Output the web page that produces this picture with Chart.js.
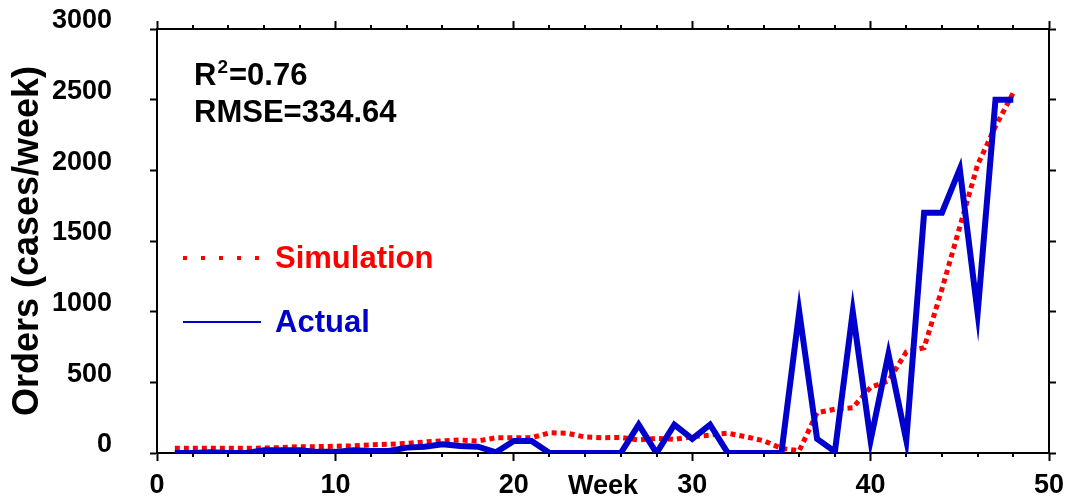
<!DOCTYPE html>
<html>
<head>
<meta charset="utf-8">
<title>Orders: simulation vs actual</title>
<script src="https://cdn.jsdelivr.net/npm/chart.js@4.4.1/dist/chart.umd.min.js"></script>
<style>
  html, body { margin: 0; padding: 0; background: #fff; }
  canvas { display: block; }
</style>
</head>
<body>
<canvas id="chart" width="1068" height="504"></canvas>
<script>
// weekly orders, cases/week
var weeks = [1, 2, 3, 4, 5, 6, 7, 8, 9, 10, 11, 12, 13, 14, 15, 16, 17, 18, 19, 20, 21, 22, 23, 24,
             25, 26, 27, 28, 29, 30, 31, 32, 33, 34, 35, 36, 37, 38, 39, 40, 41, 42, 43, 44, 45, 46, 47, 48];
var actual = [0, 0, 5, 0, 0, 20, 20, 20, 8, 8, 20, 14, 14, 38, 45, 61, 50, 45, 5, 85, 85, 0, 0, 0,
              0, 0, 200, 0, 200, 100, 200, 0, 0, 0, 0, 1000, 100, 10, 1000, 90, 700, 90, 1700, 1700, 2010, 990, 2500, 2500];
var simulation = [33, 33, 33, 33, 33, 35, 38, 45, 45, 48, 50, 58, 62, 68, 78, 85, 92, 85, 108, 108, 108, 143, 140, 113,
                  108, 110, 92, 104, 97, 115, 127, 140, 115, 87, 33, 16, 285, 310, 320, 465, 510, 715, 745, 1160, 1600, 2040, 2310, 2550];
var fitStats = ['R\u00b2=0.76', 'RMSE=334.64'];
var seriesNames = ['Simulation', 'Actual'];
var xMax = 50, yMax = 3000;

var FONT = '"Liberation Sans", Arial, sans-serif';
var RED = '#ff0000', BLUE = '#0000cc';

function toPoints(vals) {
    return weeks.map(function(w, i) { return { x: w, y: vals[i] }; });
}

function plainLabel(v) { return String(v); }

// fixed box sizes so the plot area lands where we want it
// (label overhang padding is dropped, the boxes are big enough)
function fixWidth(w) {
    return function(scale) {
        scale.width = w;
        scale.paddingTop = 0; scale.paddingBottom = 0;
    };
}
function fixHeight(h) {
    return function(scale) {
        scale.height = h;
        scale.paddingLeft = 0; scale.paddingRight = 0;
    };
}

var axisLine = { display: true, color: '#000', width: 2 };
var tickOnly = { drawOnChartArea: false, drawTicks: true, tickLength: 7, tickWidth: 2, tickColor: '#000' };

// text with a '²' drawn as a real raised, smaller 2
function drawStat(ctx, text, x, y) {
    var parts = text.split('\u00b2');
    ctx.font = 'bold 31px ' + FONT;
    ctx.fillText(parts[0], x, y);
    if (parts.length < 2) return;
    x += ctx.measureText(parts[0]).width + 1;
    ctx.font = 'bold 19px ' + FONT;
    ctx.fillText('2', x, y - 12);
    x += ctx.measureText('2').width + 1;
    ctx.font = 'bold 31px ' + FONT;
    ctx.fillText(parts[1], x, y);
}

// minor ticks every 2 weeks + fit statistics + legend inside the plot
var decorations = {
    id: 'decorations',
    afterDraw: function(chart) {
        var ctx = chart.ctx, area = chart.chartArea, xs = chart.scales.x;
        ctx.save();

        ctx.strokeStyle = '#000';
        ctx.lineWidth = 2;
        for (var v = 2; v < xMax; v += 2) {
            if (v % 10 === 0) continue;
            var px = Math.round(xs.getPixelForValue(v));
            ctx.beginPath();
            ctx.moveTo(px, area.bottom);
            ctx.lineTo(px, area.bottom + 4);
            ctx.moveTo(px, area.top);
            ctx.lineTo(px, area.top - 4);
            ctx.stroke();
        }

        ctx.fillStyle = '#000';
        ctx.textBaseline = 'alphabetic';
        ctx.textAlign = 'left';
        drawStat(ctx, fitStats[0], area.left + 37, area.top + 56);
        drawStat(ctx, fitStats[1], area.left + 37, area.top + 93);

        // legend
        ctx.font = 'bold 31px ' + FONT;
        ctx.textBaseline = 'middle';
        var ly = [area.top + 229, area.top + 293];
        chart.data.datasets.forEach(function(ds, i) {
            var y = ly[i];
            ctx.strokeStyle = ds.borderColor;
            ctx.beginPath();
            if (ds.borderDash) {
                ctx.lineWidth = 4;
                ctx.setLineDash([4, 14]);
            } else {
                ctx.lineWidth = 2;
                ctx.setLineDash([]);
            }
            ctx.moveTo(area.left + 26, y);
            ctx.lineTo(area.left + 104, y);
            ctx.stroke();
            ctx.setLineDash([]);
            ctx.fillStyle = ds.borderColor;
            ctx.fillText(ds.label, area.left + 118, y + 1);
        });
        ctx.restore();
    }
};

var ctx = document.getElementById('chart').getContext('2d');
var chart = new Chart(ctx, {
    type: 'line',
    data: {
        datasets: [{
            label: seriesNames[0],
            data: toPoints(simulation),
            borderColor: RED,
            borderWidth: 5,
            borderDash: [5, 4],
            borderCapStyle: 'butt',
            pointRadius: 0,
            tension: 0,
            fill: false,
            order: 1
        }, {
            label: seriesNames[1],
            data: toPoints(actual),
            borderColor: BLUE,
            borderWidth: 6,
            borderJoinStyle: 'miter',
            pointRadius: 0,
            tension: 0,
            fill: false,
            order: 0
        }]
    },
    options: {
        responsive: false,
        animation: false,
        devicePixelRatio: 1,
        layout: { padding: 0, autoPadding: false },
        plugins: { legend: { display: false }, tooltip: { enabled: false } },
        scales: {
            x: {
                type: 'linear', position: 'bottom', min: 0, max: xMax,
                afterFit: fixHeight(51),
                border: axisLine,
                grid: Object.assign({}, tickOnly, { tickLength: 8 }),
                ticks: {
                    stepSize: 10, autoSkip: false, maxRotation: 0, padding: 8,
                    color: '#000', font: { family: FONT, size: 27, weight: 'bold' },
                    callback: plainLabel
                },
                title: {
                    display: true, text: 'Week', color: '#000',
                    font: { family: FONT, size: 27, weight: 'bold' },
                    padding: { top: 0, bottom: 1 }
                }
            },
            x2: {
                type: 'linear', position: 'top', min: 0, max: xMax,
                afterFit: fixHeight(29),
                border: axisLine,
                grid: Object.assign({}, tickOnly, { tickLength: 8 }),
                ticks: { stepSize: 10, display: false }
            },
            y: {
                type: 'linear', position: 'left', min: 0, max: yMax,
                afterFit: fixWidth(157),
                border: axisLine,
                grid: tickOnly,
                ticks: {
                    stepSize: 500, padding: 38, labelOffset: -8,
                    color: '#000', font: { family: FONT, size: 27, weight: 'bold' },
                    callback: plainLabel
                },
                title: {
                    display: true, text: 'Orders (cases/week)', color: '#000',
                    font: { family: FONT, size: 36, weight: 'bold' },
                    padding: { top: 6, bottom: 0 }
                }
            },
            y2: {
                type: 'linear', position: 'right', min: 0, max: yMax,
                afterFit: fixWidth(19),
                border: axisLine,
                grid: tickOnly,
                ticks: { stepSize: 500, display: false }
            }
        }
    },
    plugins: [decorations]
});
</script>
</body>
</html>
